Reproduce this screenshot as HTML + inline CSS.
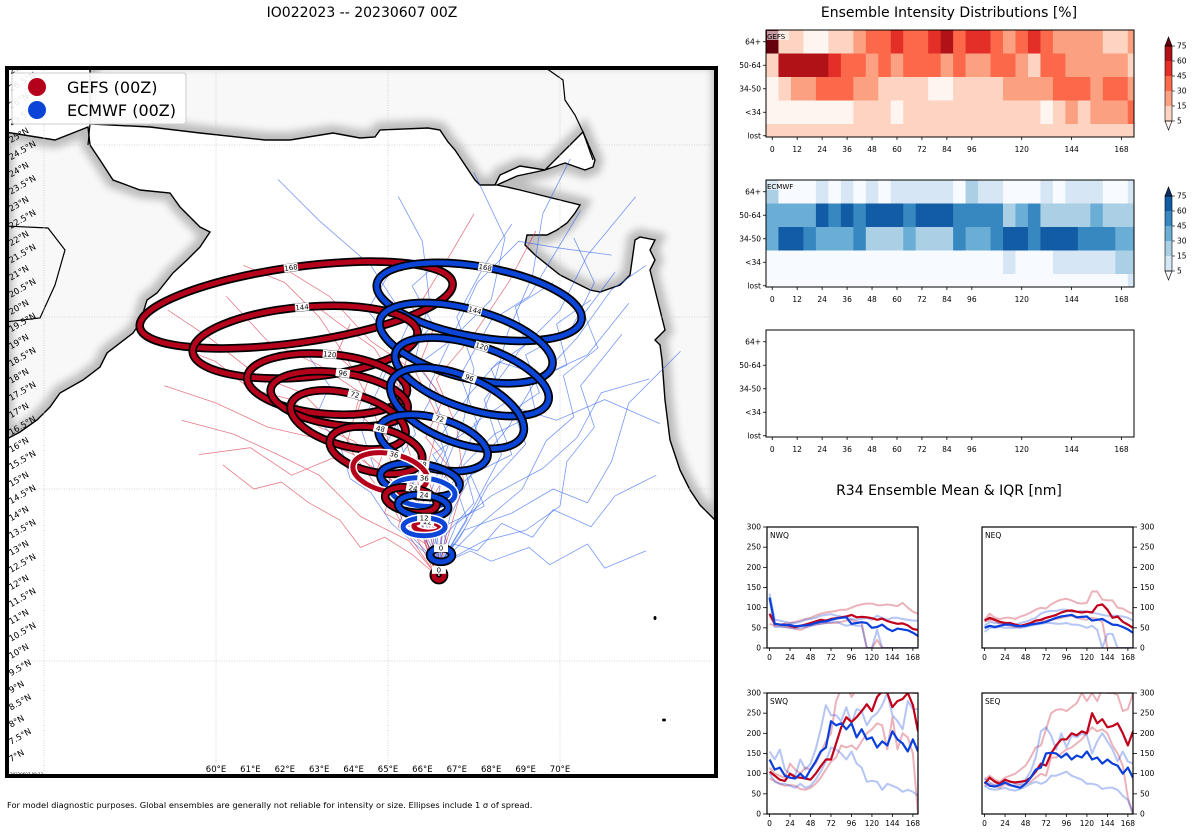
<!DOCTYPE html>
<html><head><meta charset="utf-8"><style>
html,body{margin:0;padding:0;background:#fff;}
svg{display:block;font-family:"DejaVu Sans","Liberation Sans",sans-serif;}
</style></head><body>
<svg id="root" width="1200" height="840" viewBox="0 0 1200 840" xmlns="http://www.w3.org/2000/svg">
<defs>
<clipPath id="mapclip"><rect x="9" y="70" width="705" height="704"/></clipPath>
<clipPath id="omanclip"><path id="omanP" d="M5,132 L55,140 L88,127 L90,145 L100,160 L113,180 L140,190 L170,193 L180,207 L200,227 L210,232 L200,247 L187,260 L173,273 L157,293 L147,300 L140,323 L133,333 L107,353 L100,367 L83,380 L60,393 L50,407 L37,420 L20,432 L5,440 Z"/></clipPath>
<clipPath id="indclip"><path id="indP" d="M90,60 L720,60 L720,532 L715,520 L700,505 L690,490 L680,470 L670,440 L665,400 L662,360 L660,345 L655,340 L665,330 L650,270 L655,260 L650,250 L655,240 L640,237 L635,240 L630,275 L620,285 L600,292 L590,290 L560,275 L535,255 L525,245 L527,235 L547,235 L557,230 L567,223 L575,213 L580,205 L560,200 L540,195 L520,190 L507,187 L497,185 L517,176 L545,170 L565,163 L585,170 L593,167 L595,160 L583,132 L545,170 L520,166 L500,175 L495,185 L480,185 L475,180 L465,165 L455,150 L448,142 L440,130 L428,128 L380,130 L375,137 L360,138 L333,133 L290,140 L265,140 L200,133 L150,127 L90,124 Z"/></clipPath>
<filter id="blur"><feGaussianBlur stdDeviation="4"/></filter>
</defs>
</svg>
<script>
// ---------- DATA ----------
const hmHours = [0,6,12,18,24,30,36,42,48,54,60,66,72,78,84,90,96,102,108,114,120,126,132,138,144,150,156,162,168,174];
const hmRowLabels = ["64+","50-64","34-50","<34","lost"];
const hmTickHours = [0,12,24,36,48,60,72,84,96,120,144,168];
const cbLevels = [75,60,45,30,15,5];
const gefs64 = [6,1,1,0,0,1,1,2,3,3,4,3,3,4,5,3,4,4,3,2,3,4,3,2,2,2,2,1,1,2];
const gefs50 = [1,5,5,5,5,4,3,3,2,3,2,3,3,3,2,3,2,2,3,3,2,1,3,3,2,2,2,2,2,1];
const gefs34 = [0,1,2,2,3,3,3,2,2,1,1,1,1,0,0,1,1,1,1,2,2,2,2,3,3,3,2,3,3,2];
const gefsLt = [0,0,0,0,0,0,0,1,1,1,0,1,1,1,1,1,1,1,1,1,1,1,0,1,2,1,2,2,2,3];
const gefsLost = [1,1,1,1,1,1,1,1,1,1,1,1,1,1,1,1,1,1,1,1,1,1,1,1,1,1,1,1,1,1];
const ecm64 = [2,0,0,0,1,0,1,0,1,0,1,1,1,1,1,0,2,1,1,0,0,0,1,0,1,1,1,0,0,1];
const ecm50 = [3,3,3,3,5,4,5,4,5,5,5,4,5,5,5,4,4,4,4,2,3,4,2,2,2,2,3,2,2,2];
const ecm34 = [3,5,5,4,3,3,3,4,2,2,2,3,2,2,2,4,3,3,4,5,5,4,5,5,5,4,4,4,3,3];
const ecmLt = [0,0,0,0,0,0,0,0,0,0,0,0,0,0,0,0,0,0,0,1,0,0,0,1,1,1,1,1,2,2];
const ecmLost = [0,0,0,0,0,0,0,0,0,0,0,0,0,0,0,0,0,0,0,0,0,0,0,0,0,0,0,0,0,1];

const r34Hours = [0,6,12,18,24,30,36,42,48,54,60,66,72,78,84,90,96,102,108,114,120,126,132,138,144,150,156,162,168,174];
const r34Ticks = [0,24,48,72,96,120,144,168];
const r34YTicks = [0,50,100,150,200,250,300];
const nwqGm = [85,60,58,58,55,52,55,58,62,66,70,68,72,74,76,78,82,76,77,76,74,70,73,67,63,60,61,56,47,45];
const nwqGh = [80,58,58,60,62,65,68,72,75,80,85,88,90,92,95,95,100,105,108,110,110,106,106,108,106,104,112,100,90,85];
const nwqGl = [60,55,55,52,50,48,45,50,55,58,60,62,62,62,65,68,70,65,62,0,0,20,0,0,0,0,0,0,0,0];
const nwqEm = [125,60,58,57,57,54,55,56,58,62,65,66,70,73,75,76,60,62,64,62,50,52,58,48,42,48,46,44,38,30];
const nwqEh = [135,70,68,65,62,62,65,70,72,75,80,82,84,80,78,75,72,70,72,75,70,80,75,70,75,75,72,70,68,68];
const nwqEl = [120,52,52,52,50,48,50,52,55,58,60,62,64,66,60,55,58,55,55,0,0,45,0,0,0,0,0,0,0,0];
const neqGm = [68,75,70,65,62,62,58,55,58,62,68,70,75,78,82,88,92,93,90,88,90,88,105,108,95,75,78,65,58,50];
const neqGh = [70,85,75,72,75,75,72,78,82,88,95,100,98,108,115,120,122,118,112,110,112,140,140,120,118,118,100,98,90,85];
const neqGl = [65,70,68,60,58,55,52,52,55,58,62,65,68,70,72,75,78,80,75,72,70,75,72,65,0,0,0,0,0,0];
const neqEm = [50,55,52,55,58,58,55,54,55,58,60,62,65,70,75,78,80,82,76,77,78,68,70,72,65,58,57,52,46,38];
const neqEh = [55,65,62,62,62,60,58,62,65,70,75,85,90,92,92,95,95,90,90,92,90,88,85,82,80,80,80,78,75,68];
const neqEl = [40,50,50,52,50,50,50,50,52,55,58,60,62,62,60,60,62,58,58,55,50,55,45,0,35,35,0,0,0,0];
const swqGm = [105,95,85,82,100,92,90,88,85,100,118,135,135,175,215,240,228,240,255,272,255,290,305,300,265,280,285,300,270,205];
const swqGh = [115,100,95,90,125,110,100,115,110,125,150,180,200,280,310,320,290,310,300,310,300,310,300,320,300,310,300,310,300,300];
const swqGl = [88,82,75,70,72,70,62,60,65,75,90,110,130,140,170,165,170,160,180,200,210,225,220,160,240,160,200,190,150,0];
const swqEm = [135,110,115,95,90,88,100,88,110,130,155,165,230,220,225,210,225,190,210,185,190,165,180,170,205,185,175,155,185,155];
const swqEh = [155,135,160,110,100,95,135,110,125,160,210,270,245,245,230,265,225,260,255,220,240,250,270,300,245,230,210,280,260,260];
const swqEl = [100,80,75,75,70,65,75,65,70,85,105,130,165,160,150,135,155,125,115,80,82,80,60,75,70,65,55,60,55,45];
const seqGm = [75,90,80,75,85,80,78,80,82,90,105,125,120,150,170,185,185,200,195,205,200,250,225,235,215,218,225,200,170,205];
const seqGh = [85,95,85,80,90,95,100,110,120,140,165,170,210,250,258,260,255,265,275,300,280,300,280,310,300,300,295,255,260,300];
const seqGl = [70,75,70,65,75,70,70,72,75,80,90,100,95,140,140,150,160,165,175,185,200,215,205,210,200,170,150,120,40,0];
const seqEm = [80,70,68,72,78,72,68,65,75,90,110,115,150,152,150,140,150,135,145,140,155,135,140,125,135,125,120,100,115,90];
const seqEh = [88,78,72,78,85,80,75,75,85,105,140,205,215,195,160,200,165,195,190,200,195,150,180,200,180,160,130,155,130,125];
const seqEl = [70,62,60,62,65,60,58,62,68,75,80,75,80,95,95,100,105,95,90,85,75,75,72,62,65,65,60,45,35,0];

const ellHours = [168,144,120,96,72,48,36,24,12,0];
const gefsLon = [62.33,62.59,63.23,63.58,63.84,64.65,65.06,65.67,66.13,66.48];
const gefsLat = [20.35,19.27,18.05,17.62,17.01,16.13,15.47,14.68,13.90,12.50];
const gefsRx = [4.59,3.28,2.33,2.01,1.72,1.37,1.10,0.76,0.38,0.15];
const gefsRy = [1.10,1.02,0.87,0.76,0.76,0.64,0.55,0.35,0.15,0.15];
const gefsRot = [-8,-5,5,8,15,12,12,10,5,0];
const ecmLon = [67.65,67.27,67.44,67.01,66.31,65.93,66.02,66.02,66.05,66.54];
const ecmLat = [20.44,19.24,18.26,17.35,16.34,15.26,14.91,14.51,13.90,13.08];
const ecmRx = [3.02,2.59,2.33,2.06,1.63,1.16,0.93,0.73,0.61,0.32];
const ecmRy = [1.02,0.99,0.93,0.96,0.73,0.47,0.41,0.32,0.26,0.20];
const ecmRot = [10,15,18,22,15,8,5,5,0,0];

const blueTracks = [
[66.5,12.8,66.3,14,66.6,15.5,67.2,17,67.5,18.5,67.0,20,67.8,21.5,68.6,22.7],
[66.5,12.8,66.8,14.2,67.5,15.6,68.5,16.8,69.2,18,70.5,19.4,71.5,20.8,72.5,21.5],
[66.5,12.8,66.0,14.3,65.5,15.8,65.2,17.2,65.8,18.8,66.2,20.5,66.0,22.2,65.3,23.5],
[66.5,12.8,67.0,14.0,68.0,14.8,69.5,15.6,70.5,16.5,71.2,17.8,72.6,18.2],
[66.5,12.8,66.6,14.5,67.3,16.2,68.0,17.8,68.5,19.6,69.2,21.2,69.5,23.0,70.3,24.6],
[66.5,12.8,65.8,14,64.8,15.0,64.2,16.8,64.9,18.3,65.6,19.8,64.5,21.5,63.0,22.8,61.8,24.0],
[66.5,12.8,67.2,13.8,68.6,14.3,69.8,15.0,70.8,14.6,71.5,15.8,72.0,17.5,73.5,19.0],
[66.5,12.8,66.2,14.8,66.8,16.4,66.2,18.0,66.9,19.5,67.6,21.0,68.8,22.2,70.0,22.0,71.5,21.8],
[66.5,12.8,67.5,14.5,68.3,16.0,67.8,17.6,68.8,19.0,70.0,20.2,70.8,21.8,72.2,23.5],
[66.5,12.8,65.5,13.8,65.0,15.4,65.8,16.6,65.3,18.2,66.8,19.3,68.0,20.5,68.4,22.3,67.5,24.2],
[66.5,12.8,67.8,13.5,69.0,13.8,70.0,14.5,70.2,15.8,71.0,16.8,70.6,18.0,71.8,19.5],
[66.5,12.8,66.4,14.0,67.0,15.0,66.5,16.5,67.4,17.8,68.2,18.7,69.5,18.3,70.8,18.9,72.0,20.4],
[66.5,12.8,67.1,13.6,67.9,15.1,69.0,16.3,68.6,17.4,69.9,17.0,71.3,17.6,72.9,16.9],
[66.5,12.8,66.0,13.9,66.9,15.0,66.3,16.0,67.6,16.9,67.1,18.3,68.0,19.9,69.1,20.6,70.6,23.1],
[66.5,12.8,66.9,13.4,67.6,13.2,68.3,14.0,69.2,13.6,69.8,14.4,70.9,13.9,71.6,14.8,72.8,15.4],
[66.5,12.8,66.1,13.5,66.7,14.4,66.0,15.2,66.6,16.1,65.9,17.0,66.4,17.9,65.6,18.9,66.3,19.8,65.7,20.9,66.6,21.7],
[66.5,12.8,67.3,14.1,67.0,15.0,67.9,15.9,67.5,16.9,68.4,17.5,68.0,18.5,69.0,19.2,68.7,20.3,69.8,21.0],
[66.5,12.8,65.9,13.3,65.1,14.0,64.5,14.9,63.9,15.3,63.6,16.3,62.9,17.1,63.3,18.0,62.6,19.0],
[66.5,12.8,67.6,13.9,68.9,15.0,69.6,16.4,70.4,17.1,70.1,18.3,71.1,19.1,70.7,20.1,71.6,21.3],
[66.5,12.8,66.7,13.7,67.5,14.6,67.2,15.7,68.1,16.6,69.3,17.2,69.1,18.1,70.2,18.6,69.9,19.8,70.9,20.5],
[66.5,12.8,66.3,13.6,65.4,14.5,65.9,15.5,64.9,16.2,65.5,17.4,64.7,18.1,65.2,19.2,64.4,20.2,65.0,21.2],
[66.5,12.8,67.4,13.2,68.0,12.9,69.1,13.3,69.7,12.8,70.8,13.4,71.3,12.7,72.5,13.2],
[66.5,12.8,66.6,13.9,67.8,14.5,67.4,15.4,68.6,16.0,68.2,17.0,69.4,17.8,69.0,18.9,70.3,19.6,71.0,21.0,70.4,22.3]
];
const redTracks = [
[66.4,12.5,66.0,14,65.2,15.2,64.0,16.0,62.8,16.5,61.5,16.8,60.0,17.5,58.5,18.0],
[66.4,12.5,65.5,13.8,64.6,15.5,63.5,16.8,62.5,17.8,61.2,18.3,59.8,19.4,58.6,20.2],
[66.4,12.5,65.8,14.2,65.0,16.0,64.5,17.5,63.8,18.8,63.0,20.0,62.0,21.0,60.8,21.5],
[66.4,12.5,66.2,14.0,65.7,15.8,65.2,17.5,65.6,19.0,66.0,20.5,66.8,21.8,67.5,23.0],
[66.4,12.5,65.6,13.5,64.2,14.2,63.0,15.4,61.8,16.0,60.5,16.6,59.0,17.0],
[66.4,12.5,66.6,14.0,66.1,15.5,66.5,17.0,65.8,18.4,64.5,19.3,63.3,20.6,62.0,21.4],
[66.4,12.5,65.9,14.3,64.8,14.9,63.8,16.3,64.2,17.8,63.0,18.6,61.5,19.3,60.3,20.6],
[66.4,12.5,66.8,13.8,67.2,15.2,67.0,16.8,66.4,18.2,67.5,19.5,68.5,21.0,69.3,22.5],
[66.4,12.5,65.3,14.6,63.4,15.9,62.2,15.4,61.0,16.2,59.5,16.0],
[66.4,12.5,66.1,13.4,65.3,13.9,65.6,14.8,64.7,15.6,65.0,16.5,64.1,17.2,64.4,18.1,63.5,18.9,63.9,19.8],
[66.4,12.5,66.7,13.5,66.2,14.6,66.8,15.6,66.1,16.5,66.6,17.6,65.9,18.6,66.3,19.6,65.5,20.5],
[66.4,12.5,65.7,13.1,64.9,13.6,64.2,13.3,63.6,14.1,62.7,14.6,61.9,15.2,61.1,15.0,60.2,15.7],
[66.4,12.5,66.0,13.7,64.9,14.3,65.2,15.3,64.0,16.4,63.0,16.8,62.2,17.6,61.0,17.9,60.0,18.7,59.0,19.1],
[66.4,12.5,66.3,13.9,65.6,15.0,65.9,16.1,64.9,17.0,65.3,18.0,64.6,19.1,63.6,19.8,62.8,20.4]
];

// ---------- HELPERS ----------
const NS = "http://www.w3.org/2000/svg";
const root = document.getElementById('root');
function mk(tag, attrs, parent){ const e=document.createElementNS(NS,tag); for(const k in attrs) e.setAttribute(k,attrs[k]); (parent||root).appendChild(e); return e; }
function txt(s, attrs, parent){ const e=mk('text',attrs,parent); e.textContent=s; return e; }
const reds = ["#fff5f0","#fdd4c2","#fca082","#fb694a","#e32f27","#b11218","#67000d"];
const blues = ["#f7fbff","#d6e6f4","#abcfe5","#6aaed6","#3787c0","#115ca5","#08306b"];
const px = lon => 216 + (lon-60)*34.4;
const py = lat => 661 - (lat-10)*34.4;

// ---------- TITLES ----------
let t;
t = txt("IO022023 -- 20230607 00Z",{x:362,y:17,'font-size':14,'text-anchor':'middle',fill:'#000'});
 
t = txt("Ensemble Intensity Distributions [%]",{x:949,y:17,'font-size':14,'text-anchor':'middle',fill:'#000'});
 
t = txt("R34 Ensemble Mean & IQR [nm]",{x:949,y:495,'font-size':14,'text-anchor':'middle',fill:'#000'});
 
t = txt("For model diagnostic purposes. Global ensembles are generally not reliable for intensity or size. Ellipses include 1 σ of spread.",{x:7,y:808,'font-size':8.3,fill:'#000'});
 

// ---------- MAP ----------
const mapG = mk('g',{'clip-path':'url(#mapclip)'});
 
let e;
e = mk('rect',{x:9,y:70,width:705,height:704,fill:'#fff'},mapG);
 
[['omanP','omanclip','oman-land'],['indP','indclip','india-iran-land']].forEach(([pid,cid,nm])=>{
  const d=document.getElementById(pid).getAttribute('d');
  const g=mk('g',{},mapG);
   
  mk('path',{d:d,fill:'#f8f8f8'},g);
  const sh=mk('g',{'clip-path':'url(#'+cid+')'},g);
  mk('path',{d:d,fill:'none',stroke:'#bdbdbd','stroke-width':16,filter:'url(#blur)'},sh);
  mk('path',{d:d,fill:'none',stroke:'#000','stroke-width':1.4},g);
});
e = mk('path',{d:'M543,66 L563,80 L565,100 L575,115 L583,132 L593,160',fill:'none',stroke:'#000','stroke-width':1.2},mapG);
 
e = mk('path',{d:'M5,226 L48,228 L65,250 L55,285 L40,318 L5,322',fill:'none',stroke:'#000','stroke-width':1.2},mapG);
 
e = mk('path',{d:'M90,124 L88,145',fill:'none',stroke:'#000','stroke-width':1.2},mapG);
 
e = mk('ellipse',{cx:655,cy:618,rx:1.5,ry:2,fill:'#000'},mapG);
 
e = mk('ellipse',{cx:664,cy:720,rx:2,ry:1.5,fill:'#000'},mapG);
 

[55,60,65,70].forEach(lon=>{
  const l=mk('line',{x1:px(lon),x2:px(lon),y1:70,y2:774,stroke:'#c8c8c8','stroke-width':0.8,'stroke-dasharray':'1,1.5'},mapG);
   
});
[10,15,20,25].forEach(lat=>{
  const l=mk('line',{x1:9,x2:714,y1:py(lat),y2:py(lat),stroke:'#c8c8c8','stroke-width':0.8,'stroke-dasharray':'1,1.5'},mapG);
   
});

function drawTracks(arr,col,nm){
  arr.forEach(tr=>{
    const pts=[]; for(let i=0;i<tr.length;i+=2) pts.push(px(tr[i]).toFixed(1)+','+py(tr[i+1]).toFixed(1));
    const p=mk('polyline',{points:pts.join(' '),fill:'none',stroke:col,'stroke-width':0.8,'stroke-opacity':0.65},mapG);
     
  });
}
drawTracks(blueTracks,'#2f63ee','ecmwf-member-track');
drawTracks(redTracks,'#d83345','gefs-member-track');

function ell(i,lon,lat,rx,ry,rot,col,nm,white){
  const g=mk('g',{transform:`translate(${px(lon[i]).toFixed(1)},${py(lat[i]).toFixed(1)}) rotate(${rot[i]})`},mapG);
   
  const a=Math.max(rx[i]*34.4,3), b=Math.max(ry[i]*34.4,3);
  mk('ellipse',{cx:0,cy:0,rx:a,ry:b,fill:'none',stroke:white?'#fff':'#000','stroke-width':white?8:8.5},g);
  mk('ellipse',{cx:0,cy:0,rx:a,ry:b,fill:'none',stroke:col,'stroke-width':5},g);
  const lb=mk('g',{transform:`translate(0,${-b})`},g);
  mk('rect',{x:-7,y:-4,width:14,height:8,fill:'#fff'},lb);
  const tt=txt(String(ellHours[i]),{x:0,y:2.6,'font-size':7,'text-anchor':'middle',fill:'#000'},lb);
   
}
for(let i=0;i<ellHours.length;i++){
  ell(i,gefsLon,gefsLat,gefsRx,gefsRy,gefsRot,'#b5001c','gefs-ellipse',ellHours[i]===36||ellHours[i]===12);
  ell(i,ecmLon,ecmLat,ecmRx,ecmRy,ecmRot,'#0a45d8','ecmwf-ellipse',ellHours[i]===36||ellHours[i]===12);
}

for(let lat=7;lat<=27;lat+=0.5){
  const y=py(lat)-2;
  const lab=(Number.isInteger(lat)?lat:lat.toFixed(1))+'°N';
  const tl=txt(lab,{x:11,y:y,'font-size':8.5,fill:'#000',transform:`rotate(-30 11 ${y})`},mapG);
   
}
for(let lon=60;lon<=70;lon++){
  const tl=txt(lon+'°E',{x:px(lon),y:772,'font-size':8.5,'text-anchor':'middle',fill:'#000'},mapG);
   
}
t = txt("20230607 08:13",{x:10,y:776,'font-size':4,fill:'#000'},mapG);
 

const lg=mk('g',{});
 
mk('rect',{x:12,y:73,width:174,height:51,rx:3,fill:'#fff','fill-opacity':0.9,stroke:'#ccc','stroke-width':1},lg);
e=mk('circle',{cx:37,cy:87,r:9,fill:'#b5001c'},lg);
 
e=txt("GEFS (00Z)",{x:67,y:93,'font-size':16,fill:'#000'},lg);
 
e=mk('circle',{cx:37,cy:110,r:9,fill:'#0a45d8'},lg);
 
e=txt("ECMWF (00Z)",{x:67,y:116,'font-size':16,fill:'#000'},lg);
 

e = mk('rect',{x:7,y:68,width:709,height:708,fill:'none',stroke:'#000','stroke-width':4});
 

// ---------- HEATMAPS ----------
const hx = h => 766 + (h+3)/177*368;
function heatmap(top,rows,cols,nm,label){
  const g=mk('g',{});
   
  const cid='clip'+nm;
  const cp=mk('clipPath',{id:cid},g); mk('rect',{x:766,y:top,width:368,height:107},cp);
  const cg=mk('g',{'clip-path':`url(#${cid})`},g);
  const rh=23.5, cw=6/177*368;
  rows.forEach((r,ri)=>{
    r.forEach((v,ci)=>{
      const c=mk('rect',{x:(hx(hmHours[ci])-cw/2).toFixed(2),y:(top+ri*rh).toFixed(2),width:(cw+0.4).toFixed(2),height:rh+0.4,fill:cols[v]},cg);
       
    });
  });
  mk('rect',{x:766,y:top,width:368,height:107,fill:'none',stroke:'#000','stroke-width':1},g);
  hmRowLabels.forEach((l,ri)=>{
    const y=top+ri*rh+rh/2;
    mk('line',{x1:763,x2:766,y1:y,y2:y,stroke:'#000','stroke-width':0.8},g);
    const tl=txt(l,{x:761,y:y+2.5,'font-size':7.5,'text-anchor':'end',fill:'#000'},g);
     
  });
  hmTickHours.forEach(h=>{
    const x=hx(h);
    mk('line',{x1:x,x2:x,y1:top+107,y2:top+110,stroke:'#000','stroke-width':0.8},g);
    const tl=txt(String(h),{x:x,y:top+122,'font-size':7.5,'text-anchor':'middle',fill:'#000'},g);
     
  });
  if(label){
    mk('rect',{x:767,y:top+1,width:22,height:9,fill:'#fff','fill-opacity':0.6},g);
    const tl=txt(label,{x:767,y:top+9,'font-size':7,fill:'#000'},g);
     
  }
  return g;
}
heatmap(30,[gefs64,gefs50,gefs34,gefsLt,gefsLost],reds,'gefs-intensity-heatmap','GEFS');
heatmap(180,[ecm64,ecm50,ecm34,ecmLt,ecmLost],blues,'ecmwf-intensity-heatmap','ECMWF');
heatmap(330,[],reds,'empty-intensity-heatmap',null);

function colorbar(off,cols,nm){
  const g=mk('g',{});
   
  const x=1165,w=7,b=(i)=>46+off+i*15;
  for(let i=0;i<5;i++){
    const r=mk('rect',{x:x,y:b(i),width:w,height:15,fill:cols[5-i]},g);
     
  }
  mk('polygon',{points:`${x},${b(0)} ${x+w},${b(0)} ${x+w/2},${b(0)-9}`,fill:cols[6],stroke:'#000','stroke-width':0.6},g);
  mk('polygon',{points:`${x},${b(5)} ${x+w},${b(5)} ${x+w/2},${b(5)+9}`,fill:cols[0],stroke:'#000','stroke-width':0.6},g);
  mk('rect',{x:x,y:b(0),width:w,height:75,fill:'none',stroke:'#000','stroke-width':0.6},g);
  cbLevels.forEach((v,i)=>{
    mk('line',{x1:x+w,x2:x+w+3,y1:b(i),y2:b(i),stroke:'#000','stroke-width':0.6},g);
    const tl=txt(String(v),{x:x+w+5,y:b(i)+2.5,'font-size':7.5,fill:'#000'},g);
     
  });
}
colorbar(0,reds,'gefs-colorbar');
colorbar(150,blues,'ecmwf-colorbar');

// ---------- R34 PANELS ----------
function r34(x0,y0,right,label,nm,series){
  const w=151,h=121;
  const g=mk('g',{});
   
  const sx=hh=>x0+(hh+3)/177*w, sy=v=>y0+h-v/300*h;
  const cid='clip'+nm;
  const cp=mk('clipPath',{id:cid},g); mk('rect',{x:x0,y:y0,width:w,height:h},cp);
  const cg=mk('g',{'clip-path':`url(#${cid})`},g);
  series.forEach(([arr,col,wd,op,sn])=>{
    const pts=arr.map((v,i)=>sx(r34Hours[i]).toFixed(1)+','+sy(v).toFixed(1)).join(' ');
    const p=mk('polyline',{points:pts,fill:'none',stroke:col,'stroke-width':wd,'stroke-opacity':op,'stroke-linejoin':'round'},cg);
     
  });
  mk('rect',{x:x0,y:y0,width:w,height:h,fill:'none',stroke:'#000','stroke-width':1.2},g);
  r34YTicks.forEach(v=>{
    const y=sy(v);
    if(right){ mk('line',{x1:x0+w,x2:x0+w+4,y1:y,y2:y,stroke:'#000','stroke-width':0.8},g);
      const tl=txt(String(v),{x:x0+w+7,y:y+2.5,'font-size':7.5,fill:'#000'},g);
       
    } else { mk('line',{x1:x0-4,x2:x0,y1:y,y2:y,stroke:'#000','stroke-width':0.8},g);
      const tl=txt(String(v),{x:x0-6,y:y+2.5,'font-size':7.5,'text-anchor':'end',fill:'#000'},g);
       
    }
  });
  r34Ticks.forEach(hh=>{
    const x=sx(hh);
    mk('line',{x1:x,x2:x,y1:y0+h,y2:y0+h+3,stroke:'#000','stroke-width':0.8},g);
    const tl=txt(String(hh),{x:x,y:y0+h+12,'font-size':7.5,'text-anchor':'middle',fill:'#000'},g);
     
  });
  const tl=txt(label,{x:x0+3,y:y0+11,'font-size':7.5,fill:'#000'},g);
   
}
const RC='#c0001b', BC='#0a3fdc';
function ser(gm,gh,gl,em,eh,el){return [
  [gh,RC,2,0.3,'gefs-r34-upper'],[gl,RC,2,0.3,'gefs-r34-lower'],
  [eh,BC,2,0.3,'ecmwf-r34-upper'],[el,BC,2,0.3,'ecmwf-r34-lower'],
  [gm,RC,2.2,1,'gefs-r34-mean'],[em,BC,2.2,1,'ecmwf-r34-mean']];}
r34(767,527,false,'NWQ','r34-nwq-panel',ser(nwqGm,nwqGh,nwqGl,nwqEm,nwqEh,nwqEl));
r34(982,527,true,'NEQ','r34-neq-panel',ser(neqGm,neqGh,neqGl,neqEm,neqEh,neqEl));
r34(767,693,false,'SWQ','r34-swq-panel',ser(swqGm,swqGh,swqGl,swqEm,swqEh,swqEl));
r34(982,693,true,'SEQ','r34-seq-panel',ser(seqGm,seqGh,seqGl,seqEm,seqEh,seqEl));
</script>
</body></html>
